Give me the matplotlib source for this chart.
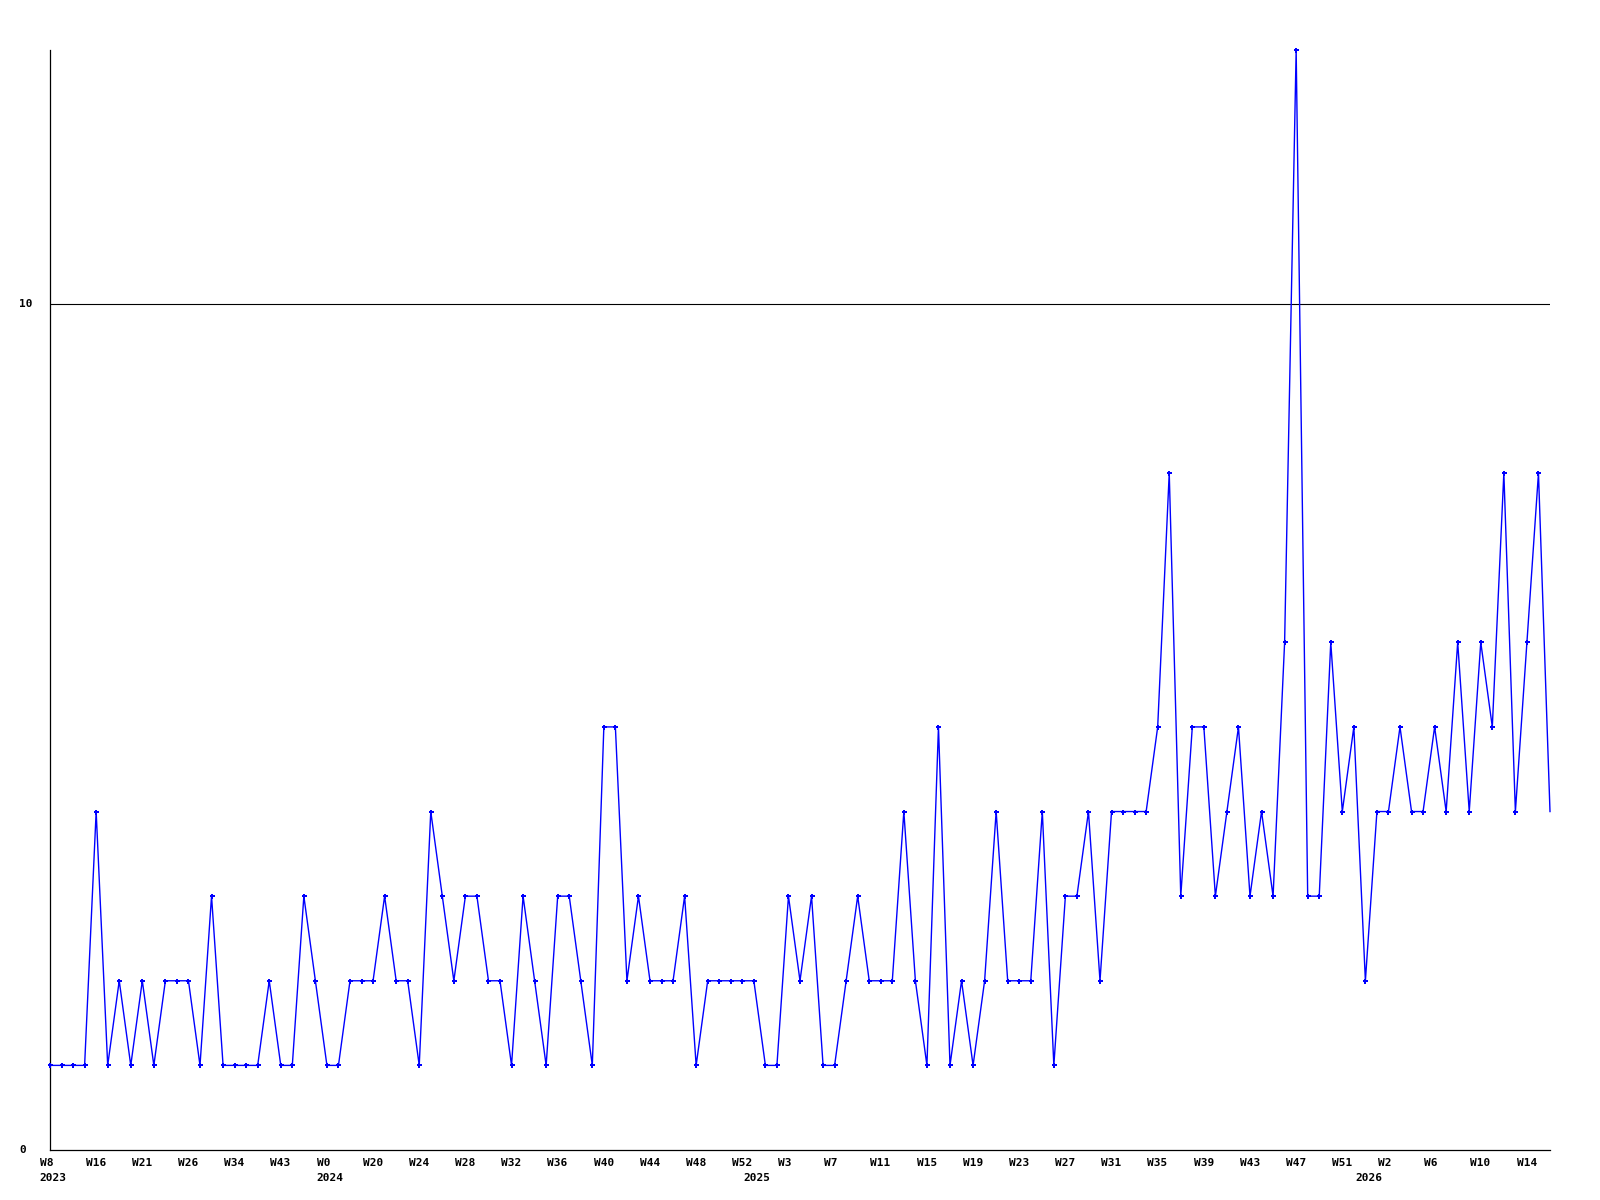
import matplotlib
matplotlib.use("Agg")
import matplotlib.pyplot as plt
import matplotlib.transforms as mtransforms
import numpy as np

# ---- data ----
values = [
    1, 1, 1, 1, 4, 1, 2, 1, 2, 1, 2, 2, 2, 1, 3, 1, 1, 1, 1, 2, 1, 1, 3, 2, 1, 1, 2, 2, 2, 3, 2, 2, 1, 4,
    3, 2, 3, 3, 2, 2, 1, 3, 2, 1, 3, 3, 2, 1, 5, 5, 2, 3, 2, 2, 2, 3, 1, 2, 2, 2, 2, 2, 1, 1, 3, 2,
    3, 1, 1, 2, 3, 2, 2, 2, 4, 2, 1, 5, 1, 2, 1, 2, 4, 2, 2, 2, 4, 1, 3, 3, 4, 2, 4, 4, 4, 4, 5, 8, 3,
    5, 5, 3, 4, 5, 3, 4, 3, 6, 13, 3, 3, 6, 4, 5, 2, 4, 4, 5, 4, 4, 5, 4, 6, 4, 6, 5, 8, 4, 6, 8, 4,
]
week_labels = ["W8", "W16", "W21", "W26", "W34", "W43", "W0", "W20", "W24", "W28", "W32",
               "W36", "W40", "W44", "W48", "W52", "W3", "W7", "W11", "W15", "W19", "W23",
               "W27", "W31", "W35", "W39", "W43", "W47", "W51", "W2", "W6", "W10", "W14"]
week_label_step = 4
years = ["2023", "2024", "2025", "2026"]
year_start_points = [0, 24, 61, 114]
y_tick_values = [0, 10]
y_tick_labels = ["0", "10"]

# ---- figure ----
W, H, DPI = 1600, 1200, 100
fig = plt.figure(figsize=(W / DPI, H / DPI), dpi=DPI, facecolor="white")
ax = fig.add_axes([50 / W, 1 - 1150 / H, 1500 / W, (1150 - 50) / H])
ax.set_facecolor("white")

x = np.arange(len(values))
n = len(values)
ax.plot(x, values, color="#0000ff", lw=1.0, marker="P", ms=3.6, mew=0,
        markevery=list(range(n - 1)), clip_on=False, zorder=3)

ax.set_xlim(0, n - 1)
ax.set_ylim(0, 13)

for s in ["top", "right"]:
    ax.spines[s].set_visible(False)
for s in ["left", "bottom"]:
    ax.spines[s].set_color("black")
    ax.spines[s].set_linewidth(0.9)

ax.set_xticks([])
ax.set_yticks([])

font = dict(family="DejaVu Sans Mono", fontweight="bold", fontsize=8, color="black")

def px(dx, dy):
    return mtransforms.ScaledTranslation(dx / DPI, dy / DPI, fig.dpi_scale_trans)

# horizontal grid line at 10 and y labels
for v, lab in zip(y_tick_values, y_tick_labels):
    if v != 0:
        ax.axhline(v, color="black", lw=0.8, zorder=1)
    trans = mtransforms.blended_transform_factory(ax.transAxes, ax.transData) + px(-30.5, 0)
    ax.text(0, v, lab, transform=trans, ha="left", va="center", **font)

xtrans = mtransforms.blended_transform_factory(ax.transData, ax.transAxes)
for i, lab in enumerate(week_labels):
    ax.text(i * week_label_step, 0, lab, transform=xtrans + px(-10.3, -13.0),
            ha="left", va="center", **font)
for yr, p in zip(years, year_start_points):
    ax.text(p, 0, yr, transform=xtrans + px(-10.3, -28.0),
            ha="left", va="center", **font)

fig.savefig("out.png", dpi=DPI, facecolor="white")
